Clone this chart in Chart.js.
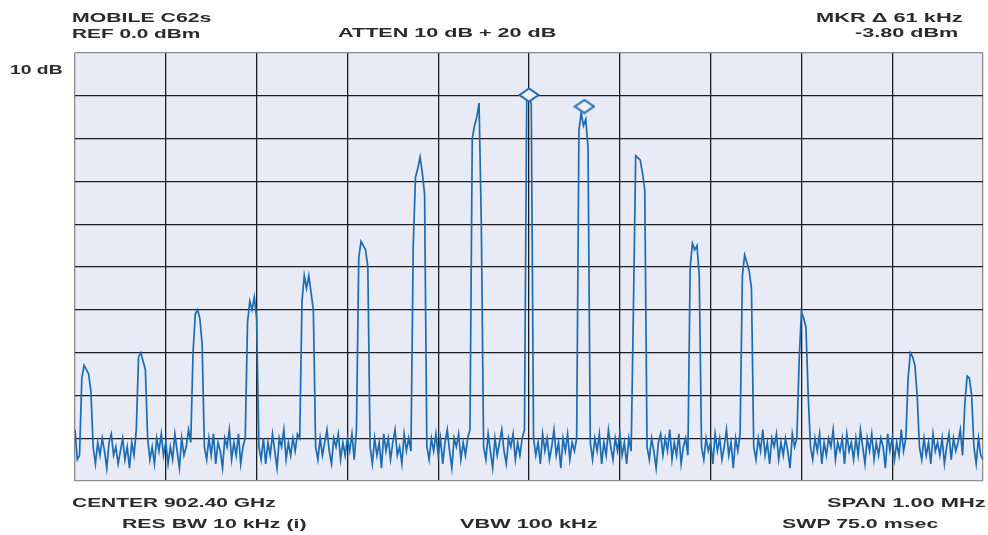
<!DOCTYPE html>
<html>
<head>
<meta charset="utf-8">
<script src="https://cdn.jsdelivr.net/npm/chart.js@4.4.1/dist/chart.umd.min.js"></script>
<style>
  body { margin: 0; background: #fff; }
  #wrap { position: relative; width: 988px; height: 535px; }
  #spectrum { position: absolute; left: 0; top: 0; }
  .lbl {
    position: absolute;
    font: bold 13px "Liberation Sans", Arial, sans-serif;
    line-height: 15px;
    color: #2b2b2b;
    white-space: nowrap;
    transform-origin: 0 0;
  }
</style>
</head>
<body>
<div id="wrap">
  <canvas id="spectrum" width="988" height="535"></canvas>
  <div class="lbl" data-w="139" style="left:72px;top:10px">MOBILE C62s</div>
  <div class="lbl" data-w="128" style="left:72px;top:26px">REF 0.0 dBm</div>
  <div class="lbl" data-w="52" style="left:10px;top:62px">10 dB</div>
  <div class="lbl" data-w="219" style="left:338px;top:25px">ATTEN 10 dB + 20 dB</div>
  <div class="lbl" data-w="146" style="left:816px;top:10px">MKR Δ 61 kHz</div>
  <div class="lbl" data-w="103" style="left:855px;top:25px">-3.80 dBm</div>
  <div class="lbl" data-w="203" style="left:72px;top:495px">CENTER 902.40 GHz</div>
  <div class="lbl" data-w="185" style="left:122px;top:516px">RES BW 10 kHz (i)</div>
  <div class="lbl" data-w="137" style="left:460px;top:516px">VBW 100 kHz</div>
  <div class="lbl" data-w="158" style="left:827px;top:495px">SPAN 1.00 MHz</div>
  <div class="lbl" data-w="156" style="left:782px;top:516px">SWP 75.0 msec</div>
</div>
<script>
// sweep: offset from center in kHz, one reading every 2.5 kHz
const START_KHZ = -500;
const STEP_KHZ = 2.5;

// trace level in dBm, 20 readings per row (50 kHz)
const traceDb = [
  -88, -95, -94, -76, -73, -74, -75, -79, -92, -96, -91, -94, -90, -93, -97, -91, -89, -94, -92, -96,
  -93, -90, -95, -92, -97, -91, -94, -88, -71, -70, -72, -74, -90, -95, -92, -96, -90, -93, -89, -94,
  -91, -96, -92, -95, -89, -93, -97, -90, -94, -92, -88, -91, -70, -61, -60, -62, -68, -92, -95, -90,
  -94, -89, -96, -91, -93, -97, -90, -92, -88, -95, -91, -94, -89, -96, -92, -90, -63, -58, -60, -57,
  -62, -92, -95, -90, -96, -91, -94, -89, -93, -97, -90, -92, -88, -95, -91, -94, -90, -93, -89, -90,
  -58, -52, -55, -52, -56, -60, -92, -95, -90, -94, -91, -88, -93, -96, -90, -92, -89, -95, -91, -94,
  -90, -93, -89, -95, -88, -48, -44, -45, -46, -50, -92, -96, -90, -94, -91, -97, -89, -93, -90, -95,
  -91, -88, -94, -92, -96, -89, -93, -90, -93, -45, -29, -27, -24.3, -28, -33, -92, -95, -90, -93, -89,
  -94, -90, -96, -91, -88, -93, -97, -90, -92, -89, -95, -91, -94, -90, -88, -20, -17, -15, -11.7, -40,
  -92, -95, -89, -93, -97, -90, -94, -91, -88, -93, -96, -90, -92, -89, -95, -91, -94, -90, -88, -11,
  -9.8, -12, -90, -94, -91, -96, -89, -93, -90, -95, -92, -88, -94, -91, -97, -90, -93, -89, -95, -91,
  -93, -90, -18, -14, -17, -15.5, -22, -91, -95, -90, -93, -89, -96, -91, -94, -88, -92, -95, -90, -93,
  -89, -94, -91, -96, -90, -93, -60, -24, -24.5, -25, -28, -32, -92, -95, -90, -93, -97, -91, -89, -94,
  -90, -93, -88, -95, -91, -94, -89, -96, -92, -90, -94, -50, -44.5, -46, -45, -52, -92, -95, -90, -93,
  -91, -96, -89, -93, -90, -95, -92, -88, -94, -91, -97, -90, -93, -89, -52, -47.2, -49, -51, -55, -92,
  -95, -90, -93, -88, -94, -91, -96, -90, -92, -89, -95, -91, -94, -90, -93, -97, -89, -92, -90, -72,
  -60.5, -62, -64, -80, -92, -95, -90, -93, -89, -96, -91, -94, -90, -92, -88, -95, -91, -93, -90, -96,
  -89, -93, -91, -95, -90, -94, -88, -92, -96, -90, -93, -89, -95, -91, -94, -90, -92, -97, -89, -93,
  -90, -95, -91, -94, -88, -93, -90, -76, -70, -71, -73, -80, -92, -95, -90, -94, -91, -96, -89, -93,
  -91, -94, -90, -96, -92, -89, -95, -90, -93, -91, -88, -94, -82, -75.5, -76, -80, -92, -96, -90, -94,
  -95
];

// the two diamond markers
const markerKhz = [0, 61];
const markerDb = [-9.8, -12.5];

const tracePoints = traceDb.map((v, i) => ({ x: START_KHZ + i * STEP_KHZ, y: v }));
const markerPoints = markerKhz.map((f, i) => ({ x: f, y: markerDb[i] }));

function makeDiamond() {
  const c = document.createElement("canvas");
  c.width = 22;
  c.height = 16;
  const g = c.getContext("2d");
  g.beginPath();
  g.moveTo(1.5, 8);
  g.lineTo(11, 1.5);
  g.lineTo(20.5, 8);
  g.lineTo(11, 14.5);
  g.closePath();
  g.fillStyle = "#eef0f8";
  g.fill();
  g.lineWidth = 2;
  g.strokeStyle = "#1f6fb4";
  g.stroke();
  return c;
}

const plotBg = {
  id: "plotBg",
  beforeDraw(chart) {
    const { ctx, chartArea: a } = chart;
    ctx.save();
    ctx.fillStyle = "#e8eaf5";
    ctx.fillRect(a.left, a.top, a.width, a.height);
    ctx.restore();
  }
};

// edges of the screen are grey, inner graticule black
const gridColor = c => (c.index === 0 || c.index === c.scale.ticks.length - 1) ? "#8c8c8c" : "#1e1e1e";

new Chart(document.getElementById("spectrum"), {
  type: "line",
  data: {
    datasets: [
      {
        data: markerPoints,
        showLine: false,
        pointStyle: makeDiamond(),
        pointRadius: 8,
        order: 0
      },
      {
        data: tracePoints,
        borderColor: "#1b6cb2",
        borderWidth: 1.7,
        pointRadius: 0,
        tension: 0,
        order: 1
      }
    ]
  },
  options: {
    responsive: false,
    animation: false,
    devicePixelRatio: 1,
    layout: { autoPadding: false, padding: { left: 75, right: 5, top: 53, bottom: 54 } },
    plugins: {
      legend: { display: false },
      tooltip: { enabled: false }
    },
    scales: {
      x: {
        type: "linear",
        min: -500,
        max: 500,
        ticks: { display: false, stepSize: 100 },
        grid: { color: gridColor, lineWidth: 1.3, drawTicks: false },
        border: { display: false }
      },
      y: {
        min: -100,
        max: 0,
        ticks: { display: false, stepSize: 10 },
        grid: { color: gridColor, lineWidth: 1.3, drawTicks: false },
        border: { display: false }
      }
    }
  },
  plugins: [plotBg]
});

// the instrument lettering is stretched wide, fit each label to its width
document.querySelectorAll(".lbl").forEach(el => {
  const w = +el.dataset.w;
  el.style.transform = `scaleX(${w / el.offsetWidth})`;
});
</script>
</body>
</html>
